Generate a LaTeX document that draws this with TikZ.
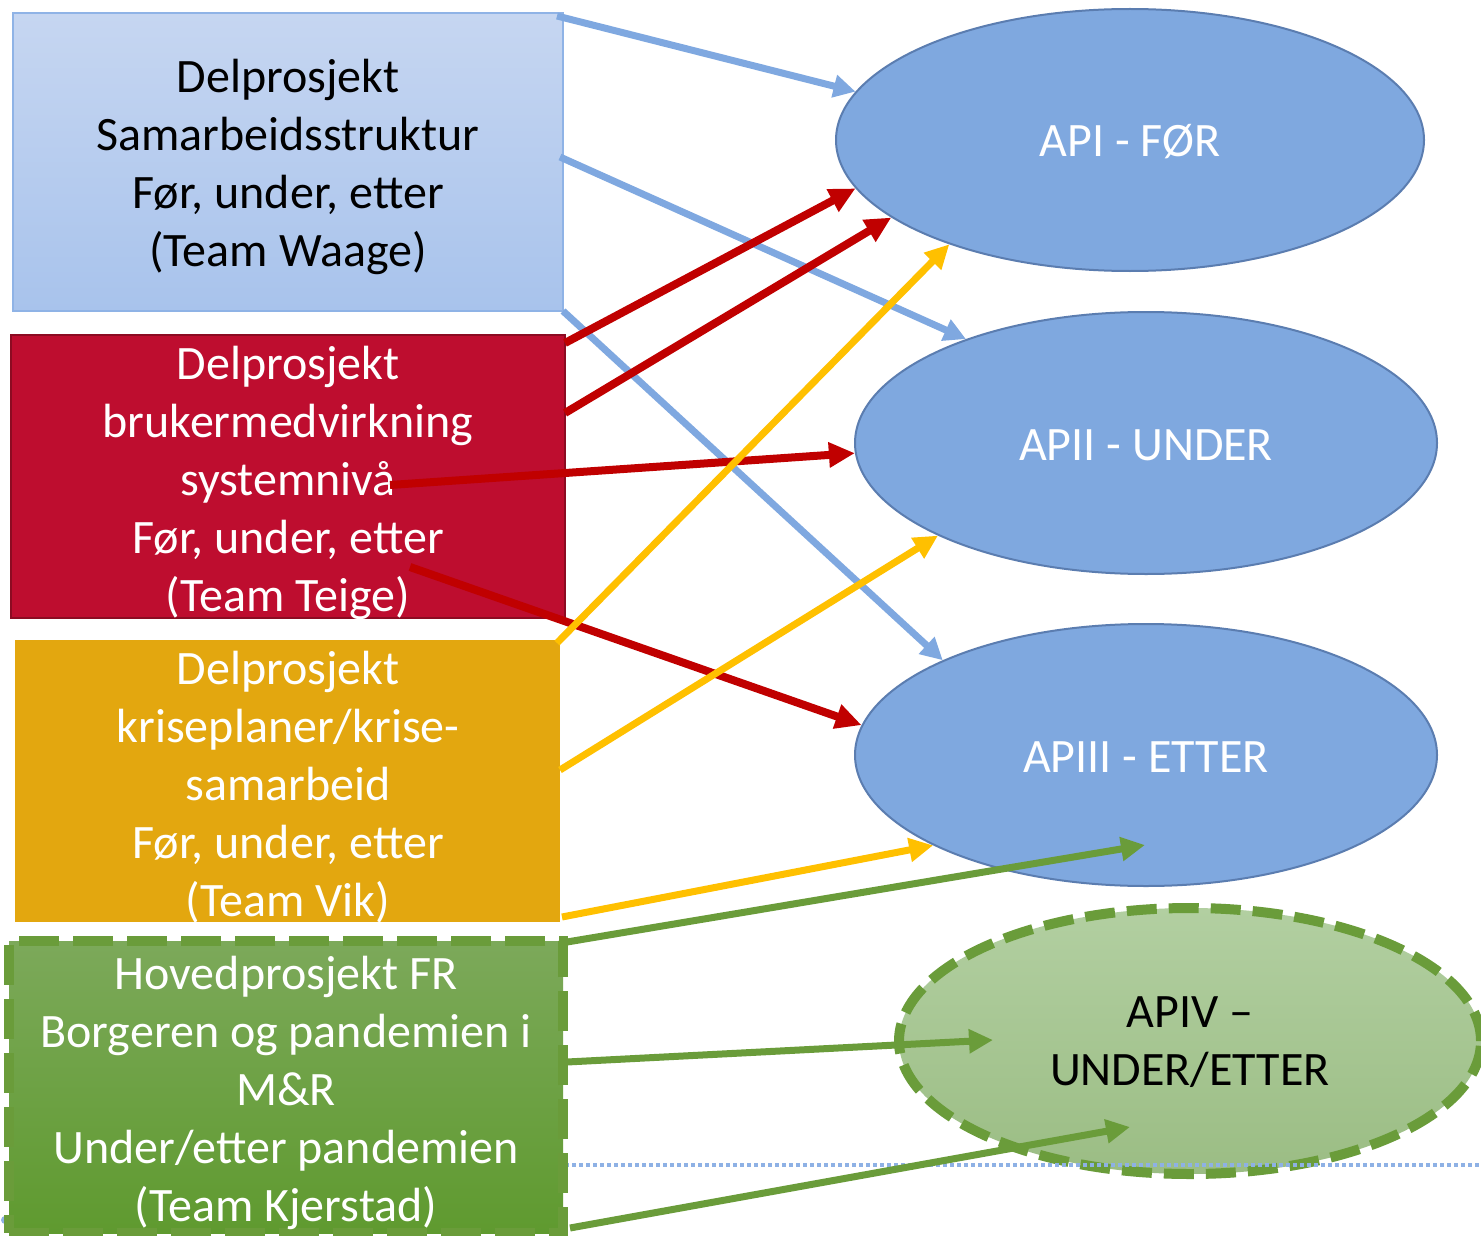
\documentclass[tikz,border=0pt]{standalone}
\usepackage{fontspec}
\setmainfont{Carlito}
\usetikzlibrary{shapes.geometric,arrows.meta}
\definecolor{boxblueT}{HTML}{C6D6F1}
\definecolor{boxblueB}{HTML}{A8C3EC}
\definecolor{boxblueD}{HTML}{8FB3E6}
\definecolor{boxred}{HTML}{BE0D2F}
\definecolor{boxredD}{HTML}{8C0B22}
\definecolor{boxorange}{HTML}{E3A70F}
\definecolor{boxgreenT}{HTML}{7CA95A}
\definecolor{boxgreenB}{HTML}{5F9A2F}
\definecolor{greenline}{HTML}{6A9C3A}
\definecolor{ellblue}{HTML}{7FA8DF}
\definecolor{ellblueD}{HTML}{5B7DB0}
\definecolor{ellgreenT}{HTML}{B2CFA1}
\definecolor{ellgreenB}{HTML}{9BBD84}
\definecolor{arrblue}{HTML}{7FA8E0}
\definecolor{arrred}{HTML}{C00000}
\definecolor{arryellow}{HTML}{FFC000}
\definecolor{dotblue}{HTML}{8EB1E5}
\begin{document}
\begin{tikzpicture}[x=1pt,y=-1pt,
  txt/.style={font=\fontsize{48}{58}\selectfont, align=center, inner sep=0pt},
  boxnode/.style={shape=rectangle, inner sep=0pt},
  ellnode/.style={shape=ellipse, inner sep=0pt},
  bluell/.style={ellnode, fill=ellblue, draw=ellblueD, line width=2pt,
    minimum width=584pt, minimum height=262pt},
  bluearr/.style={-{Triangle[length=22pt,width=22pt]}, draw=arrblue, line width=7pt},
  redarr/.style={-{Triangle[length=26pt,width=24pt]}, draw=arrred, line width=8pt},
  yelarr/.style={-{Triangle[length=24pt,width=23pt]}, draw=arryellow, line width=7pt},
  grnarr/.style={-{Triangle[length=24pt,width=23pt]}, draw=greenline, line width=7pt}]
\useasboundingbox (0,0) rectangle (1481,1236);
\fill[white] (0,0) rectangle (1481,1236);

% ellipses
\node[bluell, minimum width=588pt] (e1) at (1130,140) {};
\node[bluell, minimum width=582pt] (e2) at (1146,443) {};
\node[bluell, minimum width=582pt] (e3) at (1146,755) {};
\node[ellnode, top color=ellgreenT, bottom color=ellgreenB, draw=greenline,
  line width=10pt, dash pattern=on 30pt off 12pt,
  minimum width=582pt, minimum height=266pt] (e4) at (1190,1041) {};
\node[txt, text=white] (e1t) at ([yshift=-2pt]e1.center) {API - FØR};
\node[txt, text=white] (e2t) at ([yshift=-2pt]e2.center) {APII - UNDER};
\node[txt, text=white] (e3t) at ([yshift=-2pt]e3.center) {APIII - ETTER};
\node[txt, text=black] (e4t) at ([yshift=-1pt]e4.center) {APIV –\\UNDER/ETTER};

% dotted line
\coordinate (dl) at (5,1165);
\coordinate (dr) at (1481,1165);
\draw[dotblue, line width=3.5pt, dash pattern=on 3.5pt off 3.5pt] (dl) -- (dr);
\coordinate (dot) at (5,1220);
\fill[dotblue] (dot) circle (4pt);

% boxes
\node[boxnode, top color=boxblueT, bottom color=boxblueB, draw=boxblueD, line width=1.5pt,
  minimum width=550pt, minimum height=298pt] (b1) at (288,162) {};
\node[boxnode, fill=boxred, draw=boxredD, line width=1.5pt,
  minimum width=554pt, minimum height=283pt] (b2) at (288,476.5) {};
\node[boxnode, fill=boxorange,
  minimum width=545pt, minimum height=282pt] (b3) at (287.5,781) {};
\node[boxnode, top color=boxgreenT, bottom color=boxgreenB, draw=greenline,
  line width=10pt, dash pattern=on 40pt off 14pt,
  minimum width=554pt, minimum height=292pt] (b4) at (286,1087) {};

\node[txt, text=black] (b1t) at (288,167)
  {Delprosjekt\\Samarbeidsstruktur\\Før, under, etter\\(Team Waage)};
\node[txt, text=white] (b2t) at (288,483)
  {Delprosjekt\\brukermedvirkning\\systemnivå\\Før, under, etter\\(Team Teige)};
\node[txt, text=white] (b3t) at (288,787)
  {Delprosjekt\\kriseplaner/krise-\\samarbeid\\Før, under, etter\\(Team Vik)};
\node[txt, text=white] (b4t) at (286,1093)
  {Hovedprosjekt FR\\Borgeren og pandemien i\\M\&R\\Under/etter pandemien\\(Team Kjerstad)};

% start coordinates
\coordinate (s1) at (557,16);
\coordinate (s2) at (560,157);
\coordinate (s3) at (563,311);
\coordinate (s4) at (565,343);
\coordinate (s5) at (565,413);
\coordinate (s6) at (390,485);
\coordinate (s7) at (410,567);
\coordinate (s8) at (557,643);
\coordinate (s9) at (560,770);
\coordinate (s10) at (562,917);
\coordinate (s11) at (567,942);
\coordinate (s12) at (567,1062);
\coordinate (s13) at (570,1228);
\coordinate (t11) at (1145,845);
\coordinate (t12) at (993,1040);
\coordinate (t13) at (1130,1127);

% connectors
\draw[bluearr] (s1) -- (e1.170);
\draw[bluearr] (s2) -- (e2.150);
\draw[bluearr] (s3) -- (e3.155.5);
\draw[redarr] (s4) -- (e1.190.5);
\draw[redarr] (s5) -- (e1.198.6);
\draw[redarr] (s6) -- (e2.182.4);
\draw[redarr] (s7) -- (e3.174.8);
\draw[yelarr] (s8) -- (e1.210.2);
\draw[yelarr] (s9) -- (e2.204);
\draw[yelarr] (s10) -- (e3.203.8);
\draw[grnarr] (s11) -- (t11);
\draw[grnarr] (s12) -- (t12);
\draw[grnarr] (s13) -- (t13);
\end{tikzpicture}
\end{document}
